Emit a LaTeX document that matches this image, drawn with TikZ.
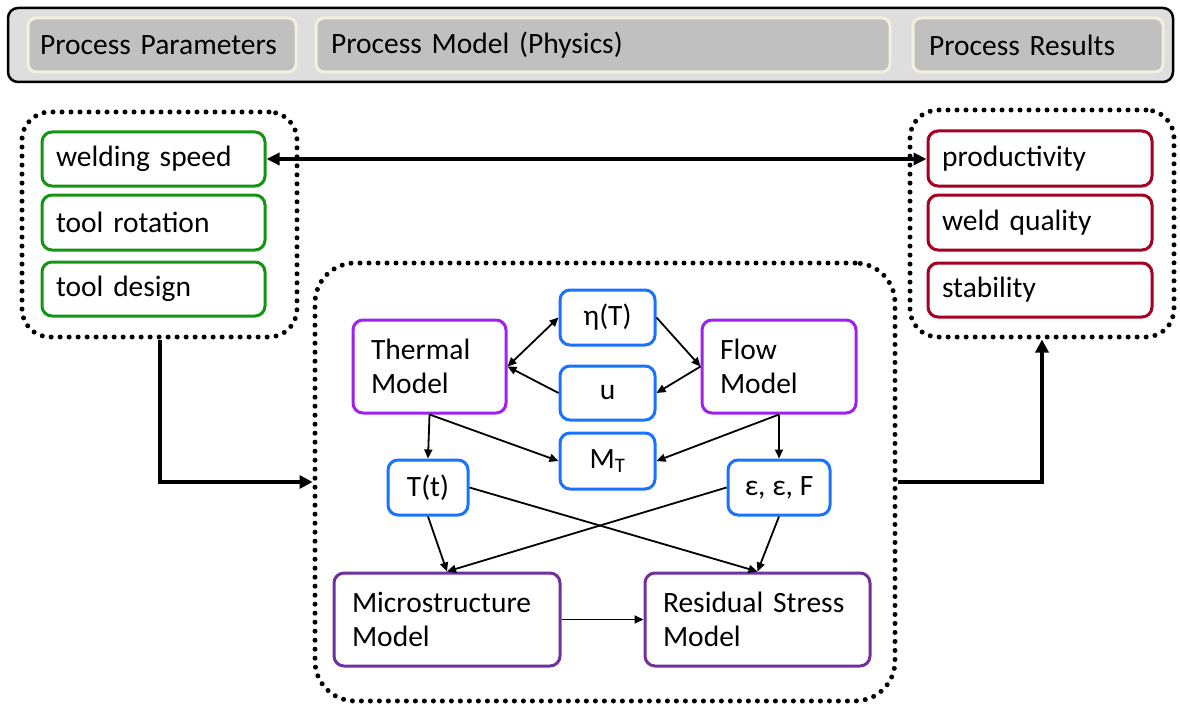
\documentclass[tikz,border=0pt]{standalone}
\usepackage{fontspec}
\setmainfont{Carlito}
\usetikzlibrary{arrows.meta}
\definecolor{grn}{RGB}{20,150,20}
\definecolor{rd}{RGB}{165,0,33}
\definecolor{bl}{RGB}{25,115,255}
\definecolor{pu}{RGB}{160,32,240}
\definecolor{pd}{RGB}{112,48,160}
\definecolor{hdrfill}{RGB}{222,222,222}
\definecolor{hinfill}{RGB}{192,192,192}
\definecolor{cream}{RGB}{242,240,222}
\tikzset{
  txt/.style={font=\fontsize{29.5}{34}\selectfont},
  base/.style={txt, draw, rounded corners=10pt, line width=3pt, fill=white, inner sep=0pt},
  gbox/.style={base, draw=grn, align=left, minimum width=223pt, text width=195pt},
  rbox/.style={base, draw=rd, align=left, minimum width=224pt, text width=196pt},
  bbox/.style={base, draw=bl, align=center},
  pbox/.style={base, draw=pu, align=left},
  qbox/.style={base, draw=pd, align=left},
  grp/.style={draw, dash pattern=on 0pt off 9pt, line cap=round, line width=5pt, rounded corners=28pt, inner sep=0pt},
  hdrout/.style={draw, fill=hdrfill, line width=2.5pt, rounded corners=10pt, inner sep=0pt},
  hdrin/.style={txt, draw=cream, fill=hinfill, line width=3pt, rounded corners=8pt, inner sep=0pt, align=left, minimum height=54pt},
  conn/.style={line width=1.8pt, -{Triangle[length=9pt,width=8pt]}},
  bigconn/.style={line width=4pt, -{Triangle[length=13pt,width=13pt]}}
}
\begin{document}
\begin{tikzpicture}[x=1pt,y=-1pt]
\useasboundingbox (0,0) rectangle (1180,706);
% header
\node[hdrout, minimum width=1165pt, minimum height=74pt] (hdr) at (590.5,45) {};
\node[hdrin, minimum width=268pt, text width=244pt] (hpp) at (162,45) {Process Parameters};
\node[hdrin, minimum width=574pt, text width=544pt] (hpm) at (603,45) {Process Model (Physics)};
\node[hdrin, minimum width=250pt, text width=218pt] (hpr) at (1038,45) {Process Results};
% groups
\node[grp, minimum width=275pt, minimum height=225pt] (gL) at (159.5,224.5) {};
\node[grp, minimum width=264pt, minimum height=227pt] (gR) at (1042,223.5) {};
\node[grp, minimum width=580pt, minimum height=438pt, rounded corners=40pt] (gM) at (605,482) {};
% parameters
\node[gbox, minimum height=54pt] (ws) at (153.5,159) {welding speed};
\node[gbox, minimum height=55pt] (tr) at (153.5,222.5) {tool rotation};
\node[gbox, minimum height=54pt] (td) at (153.5,289) {tool design};
% results
\node[rbox, minimum height=55pt] (pr) at (1040,158.5) {productivity};
\node[rbox, minimum height=55pt] (wq) at (1040,222.5) {weld quality};
\node[rbox, minimum height=54pt] (st) at (1040,290) {stability};
% physics
\node[pbox, minimum width=153pt, text width=117pt, minimum height=93pt] (th) at (429.5,366.5) {Thermal\\Model};
\node[pbox, minimum width=154pt, text width=118pt, minimum height=93pt] (fl) at (779,366.5) {Flow\\Model};
\node[bbox, minimum width=95pt, minimum height=55pt] (eta) at (607.5,317.5) {η(T)};
\node[bbox, minimum width=95pt, minimum height=54pt] (u) at (607.5,393) {u};
\node[bbox, minimum width=95pt, minimum height=56pt] (mt) at (607.5,461) {M\textsubscript{T}};
\node[bbox, minimum width=80pt, minimum height=55pt] (tt) at (428,487.5) {T(t)};
\node[bbox, minimum width=102pt, minimum height=55pt] (eps) at (779,487.5) {ε, ε, F};
\node[qbox, minimum width=226pt, text width=190pt, minimum height=93pt] (mi) at (447,619.5) {Microstructure\\Model};
\node[qbox, minimum width=225pt, text width=189pt, minimum height=93pt] (rs) at (757.5,619.5) {Residual Stress\\Model};
% big connectors
\draw[line width=3.5pt, {Triangle[length=13pt,width=12pt]}-{Triangle[length=13pt,width=12pt]}] (ws.east) -- (ws.east -| pr.west);
\draw[bigconn] (gL.south) |- (gM.west);
\draw[bigconn] (gM.east) -| (gR.south);
% thin connectors
\draw[line width=1.8pt, {Triangle[length=9pt,width=8pt]}-{Triangle[length=9pt,width=8pt]}] (th.east) -- (eta.west);
\draw[conn] (eta.east) -- (fl.west);
\draw[conn] (fl.west) -- (u.east);
\draw[conn] (u.west) -- (th.east);
\draw[conn] (th.south) -- (tt.north);
\draw[conn] (th.south) -- (mt.west);
\draw[conn] (fl.south) -- (mt.east);
\draw[conn] (fl.south) -- (eps.north);
\draw[conn] (tt.east) -- (rs.north);
\draw[conn] (eps.west) -- (mi.north);
\draw[conn] (tt.south) -- (mi.north);
\draw[conn] (eps.south) -- (rs.north);
\draw[conn] (mi.east) -- (rs.west);
\end{tikzpicture}
\end{document}
